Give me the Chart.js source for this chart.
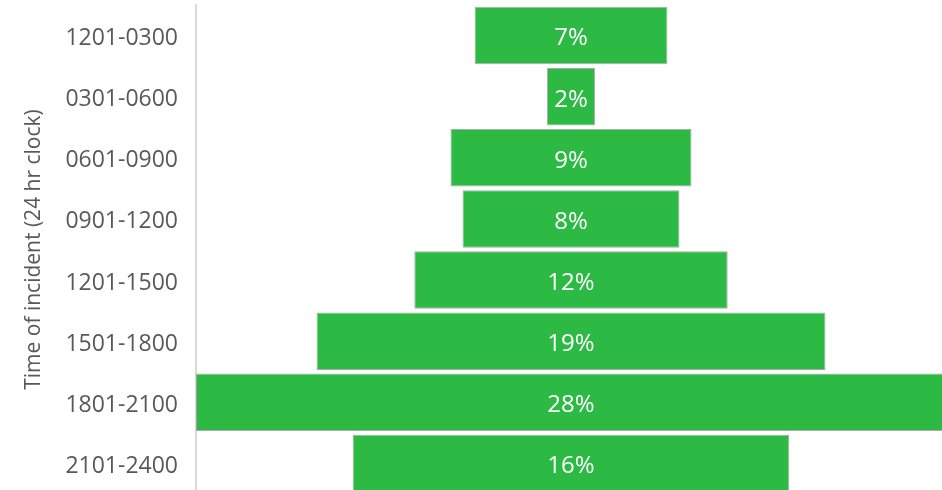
<!DOCTYPE html>
<html>
<head>
<meta charset="utf-8">
<script src="https://cdn.jsdelivr.net/npm/chart.js@4"></script>
<style>
  html, body { margin: 0; padding: 0; overflow: hidden; background: #fff; }
  #wrap { position: relative; width: 942px; height: 494px; }
</style>
</head>
<body>
<div id="wrap"><canvas id="chart"></canvas></div>
<script>
// Data
var timeBands = ["1201-0300", "0301-0600", "0601-0900", "0901-1200",
                 "1201-1500", "1501-1800", "1801-2100", "2101-2400"];
var sharePct = [7.2, 1.8, 9.0, 8.1, 11.7, 19.0, 28.0, 16.3];
var axisTitle = "Time of incident (24 hr clock)";

// bars are centred on zero, funnel style
var floating = sharePct.map(function (v) { return [-v / 2, v / 2]; });

// writes the rounded percentage in the middle of each bar
var barLabels = {
  id: "barLabels",
  afterDatasetsDraw: function (chart) {
    var ctx = chart.ctx;
    var meta = chart.getDatasetMeta(0);
    ctx.save();
    ctx.fillStyle = "#ffffff";
    ctx.font = "24px 'Open Sans'";
    ctx.textAlign = "center";
    ctx.textBaseline = "middle";
    meta.data.forEach(function (bar, i) {
      var cx = (bar.x + bar.base) / 2;
      ctx.fillText(Math.round(sharePct[i]) + "%", cx, bar.y + 3);
    });
    ctx.restore();
  }
};

var ctx = document.getElementById("chart").getContext("2d");

var myChart = new Chart(ctx, {
  type: "bar",
  data: {
    labels: timeBands,
    datasets: [{
      data: floating,
      backgroundColor: "#2cba44",
      borderColor: "rgba(150,150,150,0.8)",
      borderWidth: 1,
      borderSkipped: false,
      barPercentage: 0.94,
      categoryPercentage: 1
    }]
  },
  options: {
    indexAxis: "y",
    responsive: true,
    maintainAspectRatio: false,
    animation: false,
    layout: { padding: { top: 5, left: 0, right: 0, bottom: 0 } },
    plugins: {
      legend: { display: false },
      tooltip: { enabled: false }
    },
    scales: {
      x: {
        display: false,
        min: -14,
        max: 13.85
      },
      y: {
        afterFit: function (scale) {
          scale.width = 196;
          scale.paddingTop = 0;
          scale.paddingBottom = 0;
        },
        grid: { display: false, drawTicks: false },
        border: { display: true, color: "#d9d9d9", width: 2 },
        ticks: {
          color: "#595959",
          padding: 18,
          labelOffset: 3,
          font: { family: "'Open Sans'", size: 23 }
        },
        title: {
          display: true,
          text: axisTitle,
          color: "#595959",
          padding: { top: 21, bottom: 0 },
          font: { family: "'Open Sans'", size: 21 }
        }
      }
    }
  },
  plugins: [barLabels]
});
</script>
</body>
</html>
